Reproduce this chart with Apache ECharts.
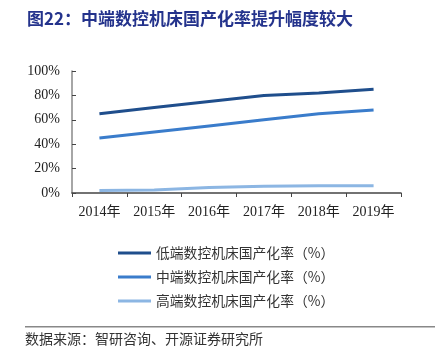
<!DOCTYPE html>
<html><head><meta charset="utf-8">
<script src="https://cdn.jsdelivr.net/npm/echarts@6/dist/echarts.min.js"></script>
<style>html,body{margin:0;padding:0;background:#fff;}#c{width:439px;height:349px;}</style>
</head><body><div id="c"></div>
<script>
var categories = ['2014年','2015年','2016年','2017年','2018年','2019年'];
var lowEnd = [65, 70, 75, 80, 82, 85];
var midEnd = [45, 50, 55, 60, 65, 68];
var highEnd = [2, 2.5, 4.5, 5.5, 6, 6];
var seriesNames = ['低端数控机床国产化率（%）','中端数控机床国产化率（%）','高端数控机床国产化率（%）'];
var yTicks = [0, 20, 40, 60, 80, 100];

var chart = echarts.init(document.getElementById('c'), null, {renderer:'canvas'});
var serif = '"Liberation Serif","Times New Roman","Noto Sans CJK SC",serif';
var cjk = '"Noto Sans CJK SC",sans-serif';
function mk(name, data, color){
  return {name:name, type:'line', data:data, symbol:'none', smooth:false,
    lineStyle:{color:color, width:3}, itemStyle:{color:color}};
}
chart.setOption({
  animation:false,
  title:{text:'图22：中端数控机床国产化率提升幅度较大', left:22, top:5,
    textStyle:{fontFamily:cjk, fontSize:17, fontWeight:'bold', color:'#24338C'}},
  grid:{left:72, right:38, top:71, bottom:156},
  legend:{orient:'vertical', left:113, top:241, itemGap:10, itemWidth:33, itemHeight:3,
    icon:'rect', textStyle:{fontFamily:cjk, fontSize:13.8, color:'#333', lineHeight:14},
    data:seriesNames},
  xAxis:{type:'category', data:categories, boundaryGap:true,
    axisLine:{lineStyle:{color:'#444', width:1.5}},
    axisTick:{show:true, length:4, lineStyle:{color:'#444'}},
    axisLabel:{fontFamily:serif, fontSize:14, color:'#222', margin:12}},
  yAxis:{type:'value', min:0, max:100, interval:20,
    axisLine:{show:true, lineStyle:{color:'#888', width:1.5}},
    axisTick:{show:true, inside:true, length:4, lineStyle:{color:'#444'}},
    splitLine:{show:false},
    axisLabel:{fontFamily:serif, fontSize:14, color:'#222', margin:12,
      formatter:function(v){return yTicks.indexOf(v)>=0 ? v+'%' : '';}}},
  series:[mk(seriesNames[0], lowEnd, '#1F4E8C'), mk(seriesNames[1], midEnd, '#3A7CCB'), mk(seriesNames[2], highEnd, '#8CB6E3')],
  graphic:[
    {type:'rect', shape:{x:25, y:326, width:410, height:1.5}, style:{fill:'#888'}},
    {type:'text', left:25, top:332, style:{text:'数据来源：智研咨询、开源证券研究所', font:'14px "Noto Sans CJK SC"', fill:'#333'}}
  ]
});
</script></body></html>
